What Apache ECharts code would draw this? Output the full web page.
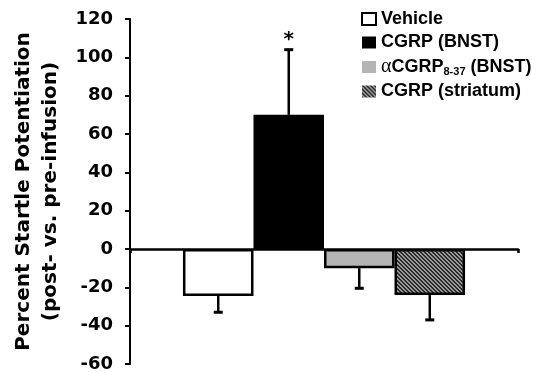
<!DOCTYPE html>
<html>
<head>
<meta charset="utf-8">
<script src="https://cdn.jsdelivr.net/npm/echarts@6/dist/echarts.min.js"></script>
<style>
  html, body { margin: 0; padding: 0; background: #fff; }
  #chart { width: 536px; height: 373px; }
</style>
</head>
<body>
<div id="chart"></div>
<script>
// 分组名称
const groups = ['Vehicle', 'CGRP (BNST)', 'αCGRP8-37 (BNST)', 'CGRP (striatum)'];
// 平均值 (%)
const means = [-24.5, 70, -10, -24];
// 误差 (朝远离零的方向)
const errors = [8.5, 34, 10.5, 13];
// 显著性标记
const marks = ['', '*', '', ''];
// y 轴刻度
const yMin = -60;
const yMax = 120;
const yStep = 20;

const CAT_GAP = 0.273;

// 斜纹填充
function hatch() {
  const c = document.createElement('canvas');
  c.width = 4;
  c.height = 4;
  const ctx = c.getContext('2d');
  for (let x = 0; x < 4; x++) {
    for (let y = 0; y < 4; y++) {
      ctx.fillStyle = ((x - y + 8) % 4 < 2) ? '#2a2a2a' : '#9a9a9a';
      ctx.fillRect(x, y, 1, 1);
    }
  }
  return { image: c, repeat: 'repeat' };
}

const fills = ['#ffffff', '#000000', '#b4b4b4', hatch()];

const chart = echarts.init(document.getElementById('chart'), null, { renderer: 'canvas' });

let series = groups.map((name, i) => ({
  name: name,
  type: 'bar',
  data: [means[i]],
  barGap: '0%',
  barCategoryGap: (CAT_GAP * 100) + '%',
  itemStyle: {
    color: fills[i],
    borderColor: '#000',
    borderWidth: 2.5
  },
  silent: true
}));

// 误差线
series.push({
  type: 'custom',
  silent: true,
  z: 5,
  data: means.map((m, i) => [0, m, errors[i], i]),
  renderItem: function (params, api) {
    const idx = api.value(3);
    const m = api.value(1);
    const e = api.value(2);
    const band = api.size([1, 0])[0];
    const gap = band * CAT_GAP;
    const bw = (band - gap) / groups.length;
    const left = api.coord([0, 0])[0] - band / 2 + gap / 2;
    const x = left + bw * (idx + 0.5);
    const y0 = api.coord([0, m])[1];
    const y1 = api.coord([0, m + (m >= 0 ? e : -e)])[1];
    const children = [
      { type: 'line', shape: { x1: x, y1: y0, x2: x, y2: y1 }, style: { stroke: '#000', lineWidth: 2.5 } },
      { type: 'line', shape: { x1: x - 4.5, y1: y1, x2: x + 4.5, y2: y1 }, style: { stroke: '#000', lineWidth: 3 } }
    ];
    if (marks[idx]) {
      children.push({
        type: 'text',
        style: {
          x: x, y: y1 - 10, text: marks[idx],
          fontSize: 20, fontWeight: 'bold', fontFamily: 'DejaVu Sans',
          fill: '#000', align: 'center', verticalAlign: 'middle'
        }
      });
    }
    return { type: 'group', children: children };
  }
});

chart.setOption({
  animation: false,
  grid: { left: 130, right: 18, top: 19, bottom: 9 },
  legend: {
    orient: 'vertical',
    left: 361,
    top: 10,
    padding: 0,
    icon: 'rect',
    itemWidth: 14,
    itemHeight: 12,
    itemGap: 5.5,
    selectedMode: false,
    data: groups.map((g, i) => ({
      name: g,
      itemStyle: i === 0 ? { borderColor: '#000', borderWidth: 2 } : { borderWidth: 0 }
    })),
    textStyle: {
      fontFamily: 'Liberation Sans',
      fontWeight: 'bold',
      fontSize: 18,
      color: '#000',
      lineHeight: 18,
      rich: {
        a: { fontFamily: 'Liberation Serif', fontWeight: 'normal', fontSize: 20, lineHeight: 18 },
        b: { fontFamily: 'Liberation Sans', fontWeight: 'bold', fontSize: 18, lineHeight: 18 },
        s: { fontFamily: 'Liberation Sans', fontWeight: 'bold', fontSize: 11, lineHeight: 18, padding: [9, 0, 0, 0] }
      }
    },
    formatter: function (name) {
      if (name.indexOf('αCGRP8-37') === 0) {
        return '{a|α}{b|CGRP}{s|8-37}{b| (BNST)}';
      }
      return name;
    }
  },
  xAxis: {
    type: 'category',
    data: [''],
    axisLine: { onZero: true, lineStyle: { color: '#000', width: 2.5 } },
    axisTick: { show: true, length: 4, lineStyle: { color: '#000', width: 2.5 } },
    axisLabel: { show: false },
    splitLine: { show: false }
  },
  yAxis: {
    type: 'value',
    min: yMin,
    max: yMax,
    interval: yStep,
    name: 'Percent Startle Potentiation\n(post- vs. pre-infusion)',
    nameLocation: 'middle',
    nameGap: 63,
    nameTextStyle: {
      fontFamily: 'DejaVu Sans',
      fontWeight: 'bold',
      fontSize: 20,
      lineHeight: 27,
      color: '#000'
    },
    axisLine: { show: true, lineStyle: { color: '#000', width: 2 } },
    axisTick: { show: true, length: 5, lineStyle: { color: '#000', width: 2 } },
    axisLabel: {
      margin: 17,
      fontFamily: 'DejaVu Sans',
      fontWeight: 'bold',
      fontSize: 18,
      color: '#000'
    },
    splitLine: { show: false }
  },
  series: series
});
</script>
</body>
</html>
